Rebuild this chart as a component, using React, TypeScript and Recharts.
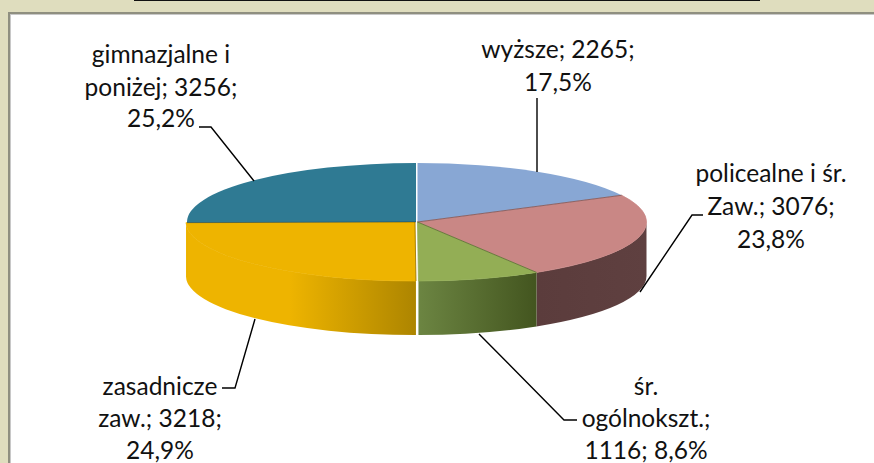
import React from "react";
import { PieChart, Pie } from "recharts";

const categories = ["wyższe", "policealne i śr. Zaw.", "śr. ogólnokszt.", "zasadnicze zaw.", "gimnazjalne i poniżej"];
const values = [2265, 3076, 1116, 3218, 3256];
const labelLines = [
  ["wyższe; 2265;", "17,5%"],
  ["policealne i śr.", "Zaw.; 3076;", "23,8%"],
  ["śr.", "ogólnokszt.;", "1116; 8,6%"],
  ["zasadnicze", "zaw.; 3218;", "24,9%"],
  ["gimnazjalne i", "poniżej; 3256;", "25,2%"],
];
const topColors = ["#88a7d4", "#c98785", "#93ae55", "#eeb400", "#2f7a93"];
const wallColors = ["#6d86aa", "url(#wallBrown)", "url(#wallGreen)", "url(#wallYellow)", "#256176"];
const sliceOffsets = [0, 0, 0, -2.5, -1.5];

const labelCentres = [558, 771, 646, 160, 161];
const labelBaselines = [
  [58, 91],
  [182, 215, 248],
  [395, 427, 459],
  [395, 427, 459],
  [63, 96, 127],
];
const leaders = [
  "M537 98 L537 172",
  "M703 215 L692 215 L640 292",
  "M479 334 L564 420 L577 420",
  "M255 319 L235 388 L222 388",
  "M199 127 L211 127 L254 181",
];

const tableData = categories.map((name, i) => ({ name, value: values[i] }));

const WIDTH = 874;
const HEIGHT = 463;
const CX = 417.5;
const CY = 222;
const RX = 229;
const SQUASH = 59 / 229;
const DEPTH = 54;

const point = (cx: number, cy: number, rx: number, deg: number) => {
  const a = (deg * Math.PI) / 180;
  return [cx + rx * Math.cos(a), cy - rx * SQUASH * Math.sin(a)];
};

const TopShape = (p: any) => {
  const { cx, cy, outerRadius: r, startAngle: s, endAngle: e, index } = p;
  const dx = sliceOffsets[index];
  const [x1, y1] = point(cx + dx, cy, r, s);
  const [x2, y2] = point(cx + dx, cy, r, e);
  const large = Math.abs(s - e) > 180 ? 1 : 0;
  const d = `M${cx + dx} ${cy} L${x1} ${y1} A${r} ${r * SQUASH} 0 ${large} 1 ${x2} ${y2} Z`;
  const sealed = index >= 1 && index <= 3;
  return (
    <g>
      <path d={d} fill={topColors[index]} stroke={sealed ? topColors[index] : "none"} strokeWidth={0.8} />
      {index > 0 && <path d={`M${cx + dx} ${cy} L${x1} ${y1}`} stroke="#000" strokeOpacity={0.3} strokeWidth={1} fill="none" />}
    </g>
  );
};

const WallShape = (p: any) => {
  const { cx, cy, outerRadius: r, startAngle, endAngle, index } = p;
  const s = Math.min(startAngle, 0);
  const e = Math.max(endAngle, -180);
  if (s <= e) return <g />;
  const dx = sliceOffsets[index];
  const [x1, y1] = point(cx + dx, cy, r, s);
  const [x2, y2] = point(cx + dx, cy, r, e);
  const d = `M${x1} ${y1} A${r} ${r * SQUASH} 0 0 1 ${x2} ${y2} L${x2} ${y2 + DEPTH} A${r} ${r * SQUASH} 0 0 0 ${x1} ${y1 + DEPTH} Z`;
  return <path d={d} fill={wallColors[index]} />;
};

const renderLabel = (p: any) => {
  const i = p.index;
  return (
    <g key={i}>
      <path d={leaders[i]} fill="none" stroke="#000" strokeWidth={1.4} />
      {labelLines[i].map((line, j) => (
        <text key={j} x={labelCentres[i]} y={labelBaselines[i][j]} textAnchor="middle" fontFamily="Lato" fontSize={24.5} fill="#111">
          {line}
        </text>
      ))}
    </g>
  );
};

export default function App() {
  return (
    <div style={{ position: "absolute", left: 0, top: 0, width: WIDTH, height: HEIGHT, overflow: "hidden", background: "#fff" }}>
      <div style={{ position: "absolute", left: 0, top: 0, width: WIDTH, height: 12, background: "#dfddbe" }} />
      <div style={{ position: "absolute", left: 0, top: 0, width: 8, height: HEIGHT, background: "#dfddbe" }} />
      <div style={{ position: "absolute", left: 134, top: 0, width: 626, height: 1, background: "#111" }} />
      <div style={{ position: "absolute", left: 8, top: 12, width: WIDTH, height: 2, background: "#8f8f80" }} />
      <div style={{ position: "absolute", left: 8, top: 12, width: 2, height: HEIGHT, background: "#8f8f80" }} />
      <div style={{ position: "absolute", left: 10, top: 14, width: WIDTH, height: 1, background: "#c8c8c8" }} />
      <div style={{ position: "absolute", left: 10, top: 14, width: 1, height: HEIGHT, background: "#c8c8c8" }} />
      <div style={{ position: "absolute", left: 0, top: 0 }}>
        <PieChart width={WIDTH} height={HEIGHT} margin={{ top: 0, right: 0, bottom: 0, left: 0 }}>
          <defs>
            <linearGradient id="wallYellow" x1="0" x2="1" y1="0" y2="0">
              <stop offset="0.45" stopColor="#eeb400" />
              <stop offset="1" stopColor="#ad8500" />
            </linearGradient>
            <linearGradient id="wallGreen" x1="0" x2="1" y1="0" y2="0">
              <stop offset="0" stopColor="#6c8542" />
              <stop offset="1" stopColor="#43551f" />
            </linearGradient>
            <linearGradient id="wallBrown" x1="0" x2="1" y1="0" y2="0">
              <stop offset="0" stopColor="#5b3c3c" />
              <stop offset="1" stopColor="#5f4040" />
            </linearGradient>
          </defs>
          <Pie
            data={tableData}
            dataKey="value"
            nameKey="name"
            cx={CX}
            cy={CY}
            innerRadius={0}
            outerRadius={RX}
            startAngle={90}
            endAngle={-270}
            shape={WallShape}
            stroke="none"
            label={false}
            labelLine={false}
            isAnimationActive={false}
          />
          <Pie
            data={tableData}
            dataKey="value"
            nameKey="name"
            cx={CX}
            cy={CY}
            innerRadius={0}
            outerRadius={RX}
            startAngle={90}
            endAngle={-270}
            shape={TopShape}
            stroke="none"
            label={renderLabel}
            labelLine={false}
            isAnimationActive={false}
          />
        </PieChart>
      </div>
    </div>
  );
}
